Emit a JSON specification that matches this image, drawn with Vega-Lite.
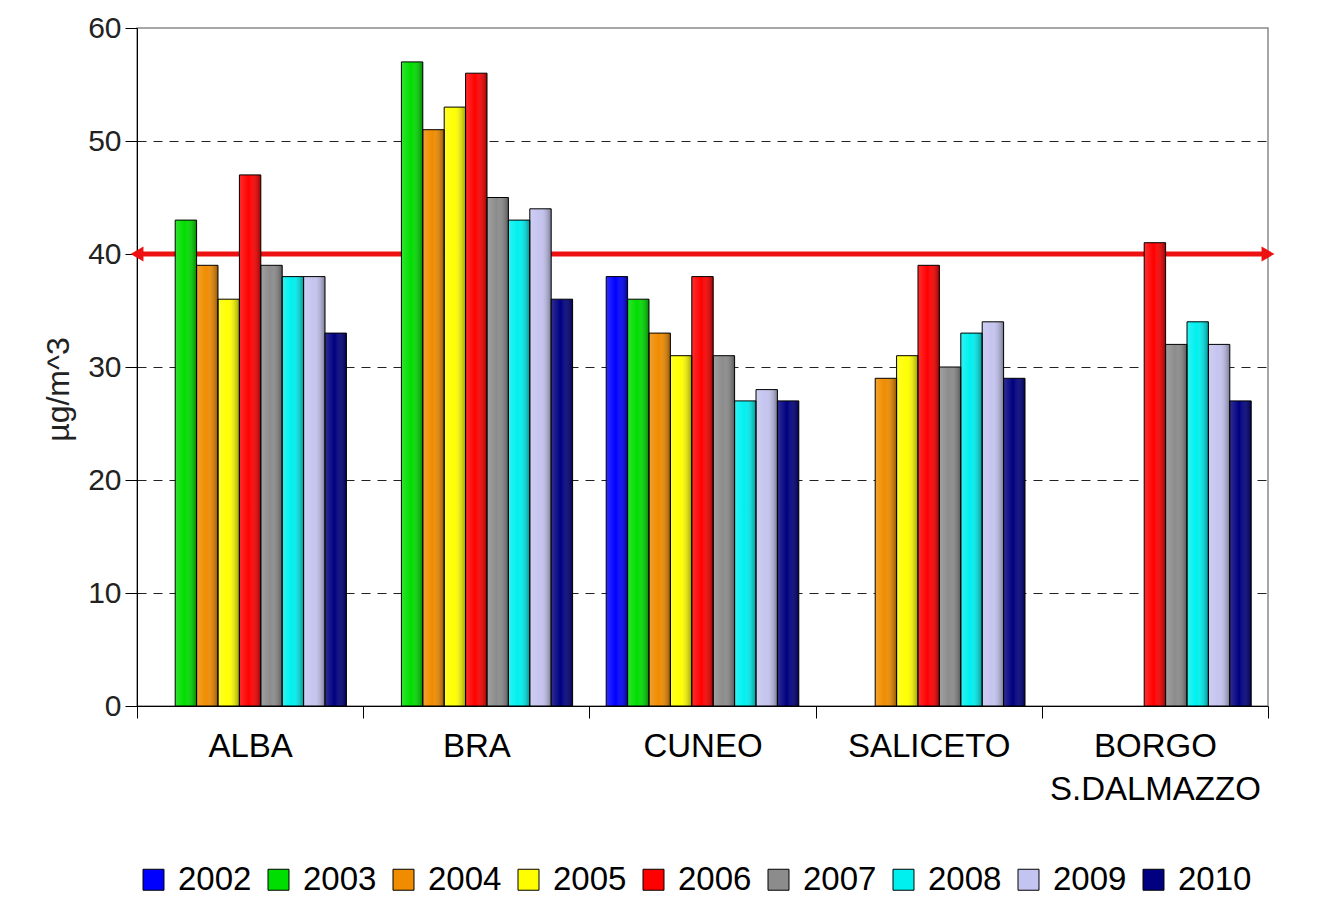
{
  "$schema": "https://vega.github.io/schema/vega-lite/v6.json",
  "width": 1131,
  "height": 678,
  "autosize": {"type": "none"},
  "padding": {"left": 137, "top": 28, "right": 66, "bottom": 197},
  "background": "white",
  "config": {
    "font": "Liberation Sans",
    "view": {"stroke": "#8a8a8a", "strokeWidth": 1.5},
    "legend": {"symbolStrokeColor": "black", "symbolStrokeWidth": 1}
  },
  "data": {
    "values": [
      {"site": "ALBA", "year": "2003", "value": 43},
      {"site": "ALBA", "year": "2004", "value": 39},
      {"site": "ALBA", "year": "2005", "value": 36},
      {"site": "ALBA", "year": "2006", "value": 47},
      {"site": "ALBA", "year": "2007", "value": 39},
      {"site": "ALBA", "year": "2008", "value": 38},
      {"site": "ALBA", "year": "2009", "value": 38},
      {"site": "ALBA", "year": "2010", "value": 33},
      {"site": "BRA", "year": "2003", "value": 57},
      {"site": "BRA", "year": "2004", "value": 51},
      {"site": "BRA", "year": "2005", "value": 53},
      {"site": "BRA", "year": "2006", "value": 56},
      {"site": "BRA", "year": "2007", "value": 45},
      {"site": "BRA", "year": "2008", "value": 43},
      {"site": "BRA", "year": "2009", "value": 44},
      {"site": "BRA", "year": "2010", "value": 36},
      {"site": "CUNEO", "year": "2002", "value": 38},
      {"site": "CUNEO", "year": "2003", "value": 36},
      {"site": "CUNEO", "year": "2004", "value": 33},
      {"site": "CUNEO", "year": "2005", "value": 31},
      {"site": "CUNEO", "year": "2006", "value": 38},
      {"site": "CUNEO", "year": "2007", "value": 31},
      {"site": "CUNEO", "year": "2008", "value": 27},
      {"site": "CUNEO", "year": "2009", "value": 28},
      {"site": "CUNEO", "year": "2010", "value": 27},
      {"site": "SALICETO", "year": "2004", "value": 29},
      {"site": "SALICETO", "year": "2005", "value": 31},
      {"site": "SALICETO", "year": "2006", "value": 39},
      {"site": "SALICETO", "year": "2007", "value": 30},
      {"site": "SALICETO", "year": "2008", "value": 33},
      {"site": "SALICETO", "year": "2009", "value": 34},
      {"site": "SALICETO", "year": "2010", "value": 29},
      {"site": "BORGO S.DALMAZZO", "year": "2006", "value": 41},
      {"site": "BORGO S.DALMAZZO", "year": "2007", "value": 32},
      {"site": "BORGO S.DALMAZZO", "year": "2008", "value": 34},
      {"site": "BORGO S.DALMAZZO", "year": "2009", "value": 32},
      {"site": "BORGO S.DALMAZZO", "year": "2010", "value": 27}
    ]
  },
  "encoding": {
    "x": {
      "field": "site",
      "type": "nominal",
      "scale": {"domain": ["ALBA", "BRA", "CUNEO", "SALICETO", "BORGO S.DALMAZZO"], "paddingInner": 0, "paddingOuter": 0},
      "axis": {
        "title": null,
        "labelAngle": 0,
        "tickBand": "extent",
        "tickSize": 12,
        "tickColor": "black",
        "domainColor": "black",
        "labelFontSize": 33,
        "labelColor": "black",
        "labelPadding": 12,
        "labelLineHeight": 43,
        "labelLimit": 0,
        "labelExpr": "datum.value == 'BORGO S.DALMAZZO' ? ['BORGO', 'S.DALMAZZO'] : datum.label",
        "grid": false
      }
    },
    "y": {
      "field": "value",
      "type": "quantitative",
      "scale": {"domain": [0, 60], "nice": false},
      "axis": {
        "title": "µg/m^3",
        "titleFontSize": 32,
        "titleFontWeight": "normal",
        "titleColor": "#222",
        "titlePadding": 12,
        "titleY": 361,
        "values": [0, 10, 20, 30, 40, 50, 60],
        "labelFontSize": 30,
        "labelColor": "#222",
        "labelPadding": 4,
        "tickSize": 12,
        "tickColor": "black",
        "domainColor": "black",
        "grid": true,
        "gridColor": "#222",
        "gridDash": [9, 7],
        "gridWidth": 1,
        "gridOpacity": {"condition": {"test": "datum.value == 0 || datum.value == 60", "value": 0}, "value": 1}
      }
    }
  },
  "layer": [
    {
      "data": {"values": [{"limit": 40}]},
      "mark": {"type": "rule", "color": "#ee1111", "strokeWidth": 5},
      "encoding": {"x": null, "y": {"field": "limit", "type": "quantitative"}}
    },
    {
      "data": {"values": [{"limit": 40}]},
      "mark": {"type": "point", "shape": "triangle-left", "filled": true, "color": "#ee1111", "size": 220, "opacity": 1, "dx": 19},
      "encoding": {"x": {"datum": "ALBA", "type": "nominal", "bandPosition": 0}, "y": {"field": "limit", "type": "quantitative"}}
    },
    {
      "data": {"values": [{"limit": 40}]},
      "mark": {"type": "point", "shape": "triangle-right", "filled": true, "color": "#ee1111", "size": 220, "opacity": 1, "dx": -16},
      "encoding": {"x": {"datum": "BORGO S.DALMAZZO", "type": "nominal", "bandPosition": 1}, "y": {"field": "limit", "type": "quantitative"}}
    },
    {
      "mark": {"type": "bar"},
      "encoding": {
        "xOffset": {"field": "year", "type": "nominal", "scale": {"paddingInner": 0, "paddingOuter": 0.785}},
        "color": {
          "field": "year",
          "type": "nominal",
          "scale": {
            "domain": ["2002", "2003", "2004", "2005", "2006", "2007", "2008", "2009", "2010"],
            "range": ["#0000ff", "#00dd00", "#f08c00", "#ffff00", "#ff0000", "#8c8c8c", "#00f0f0", "#c4c4f0", "#000080"]
          },
          "legend": {
            "title": null,
            "orient": "bottom",
            "direction": "horizontal",
            "columns": 9,
            "symbolType": "square",
            "symbolSize": 440,
            "labelFontSize": 33,
            "labelColor": "black",
            "labelOffset": 8,
            "columnPadding": 10,
            "offset": 57
          }
        }
      }
    },
    {
      "mark": {
        "type": "bar",
        "stroke": "black",
        "strokeWidth": 1,
        "fill": {
          "gradient": "linear",
          "x1": 0, "y1": 0, "x2": 1, "y2": 0,
          "stops": [
            {"offset": 0, "color": "rgba(255,255,255,0.18)"},
            {"offset": 0.45, "color": "rgba(255,255,255,0)"},
            {"offset": 1, "color": "rgba(0,0,0,0.38)"}
          ]
        }
      },
      "encoding": {
        "xOffset": {"field": "year", "type": "nominal"}
      }
    }
  ]
}
